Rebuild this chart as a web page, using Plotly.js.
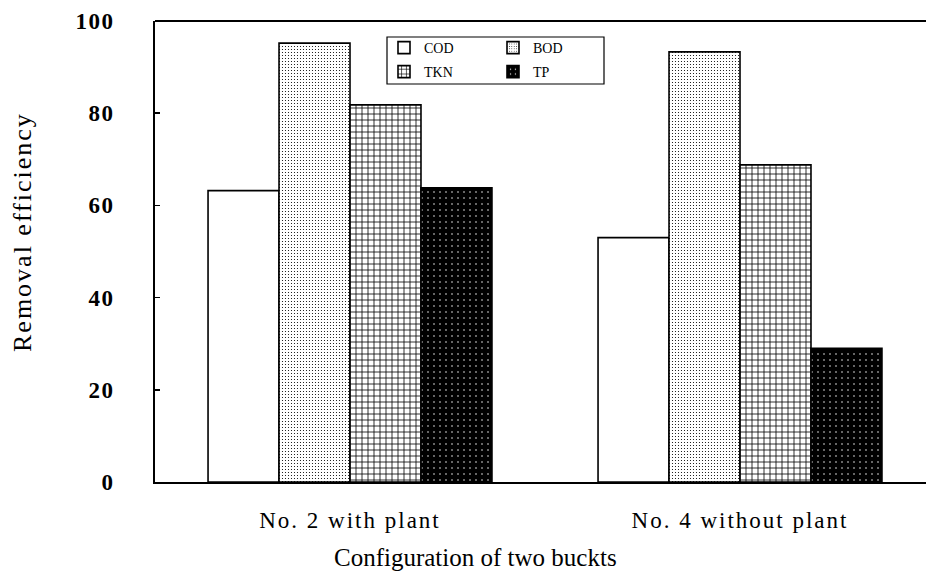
<!DOCTYPE html>
<html>
<head>
<meta charset="utf-8">
<script src="https://cdn.plot.ly/plotly-3.0.1.min.js"></script>
<style>
  html, body { margin: 0; padding: 0; background: #fff; overflow: hidden; }
  #chart { width: 926px; height: 578px; }
  #chart .xtick text { letter-spacing: 2px; }
  #chart .ytick text { letter-spacing: 1.5px; }
  #chart .annotation[data-index="1"] text { letter-spacing: 2px; }
</style>
</head>
<body>
<div id="chart"></div>
<script>
// ---- data ----
const categories = ["No. 2 with plant", "No. 4 without plant"];
const seriesNames = ["COD", "BOD", "TKN", "TP"];
const cod = [63.2, 53.0];
const bod = [95.2, 93.3];
const tkn = [81.8, 68.8];
const tp  = [63.8, 29.0];
const yTicks = [0, 20, 40, 60, 80, 100];
const xTitle = "Configuration of two buckts";
const yTitle = "Removal efficiency";

const serif = "Liberation Serif, Times New Roman, serif";
const outline = { color: "#000", width: 1.6 };

const traces = [
  { type: "bar", name: seriesNames[0], x: categories, y: cod, legend: "legend",
    marker: { color: "#ffffff", line: outline } },
  { type: "bar", name: seriesNames[1], x: categories, y: bod, legend: "legend",
    marker: { color: "#ffffff", line: outline,
      pattern: { shape: ".", fillmode: "overlay", fgcolor: "#000", fgopacity: 1, size: 3, solidity: 0.12 } } },
  { type: "bar", name: seriesNames[2], x: categories, y: tkn, legend: "legend2",
    marker: { color: "#ffffff", line: outline,
      pattern: { shape: "+", fillmode: "overlay", fgcolor: "#000", fgopacity: 1, size: 6, solidity: 0.25 } } },
  { type: "bar", name: seriesNames[3], x: categories, y: tp, legend: "legend2",
    marker: { color: "#000000", line: outline,
      pattern: { shape: ".", fillmode: "overlay", fgcolor: "#ffffff", fgopacity: 1, size: 6, solidity: 0.05 } } }
];

const W = 926, H = 578;
const mL = 155, mR = 0, mT = 21, mB = 96;
const plotW = W - mL - mR, plotH = H - mT - mB;
const px = v => (v - mL) / plotW;
const py = v => (H - mB - v) / plotH;

const layout = {
  width: W, height: H,
  margin: { l: mL, r: mR, t: mT, b: mB, pad: 0 },
  paper_bgcolor: "#fff", plot_bgcolor: "#fff",
  barmode: "group", bargap: 0.272, bargroupgap: 0,
  font: { family: serif, color: "#000" },
  xaxis: {
    type: "category", range: [-0.5, -0.5 + plotW / 390],
    showline: true, linecolor: "#000", linewidth: 2, mirror: false,
    ticks: "", showgrid: false, zeroline: false,
    tickfont: { family: serif, size: 23, color: "#000" },
    ticklabelstandoff: 16,
    automargin: false
  },
  yaxis: {
    range: [0, 100], tickvals: yTicks, ticktext: yTicks.map(String),
    showline: true, linecolor: "#000", linewidth: 2, mirror: false,
    ticks: "inside", ticklen: 5, tickwidth: 1.5, tickcolor: "#000",
    showgrid: false, zeroline: false,
    tickfont: { family: serif, size: 23, color: "#000", weight: "bold" },
    ticklabelstandoff: 34,
    automargin: false
  },
  showlegend: true,
  legend: {
    orientation: "h", x: px(384), xanchor: "left", y: py(48), yanchor: "middle",
    entrywidth: 64, entrywidthmode: "pixels", bgcolor: "rgba(0,0,0,0)",
    borderwidth: 0, font: { family: serif, size: 14, color: "#000" },
    itemwidth: 30, traceorder: "normal"
  },
  legend2: {
    orientation: "h", x: px(384), xanchor: "left", y: py(72), yanchor: "middle",
    entrywidth: 64, entrywidthmode: "pixels", bgcolor: "rgba(0,0,0,0)",
    borderwidth: 0, font: { family: serif, size: 14, color: "#000" },
    itemwidth: 30, traceorder: "normal"
  },
  annotations: [
    { xref: "paper", yref: "paper", x: px(475), y: py(557), xanchor: "center", yanchor: "middle",
      text: xTitle, showarrow: false, font: { family: serif, size: 25, color: "#000" } },
    { xref: "paper", yref: "paper", x: px(22), y: py(232), xanchor: "center", yanchor: "middle",
      text: yTitle, textangle: -90, showarrow: false, font: { family: serif, size: 26, color: "#000" } }
  ],
  shapes: [
    { type: "line", xref: "paper", yref: "paper", x0: 0, x1: 1, y0: 1, y1: 1,
      line: { color: "#000", width: 2 } },
    { type: "rect", xref: "paper", yref: "paper", x0: px(387), x1: px(604), y0: py(84), y1: py(37),
      line: { color: "#000", width: 1.2 }, fillcolor: "rgba(0,0,0,0)", layer: "below" }
  ]
};

Plotly.newPlot("chart", traces, layout, { displayModeBar: false, staticPlot: true });
</script>
</body>
</html>
